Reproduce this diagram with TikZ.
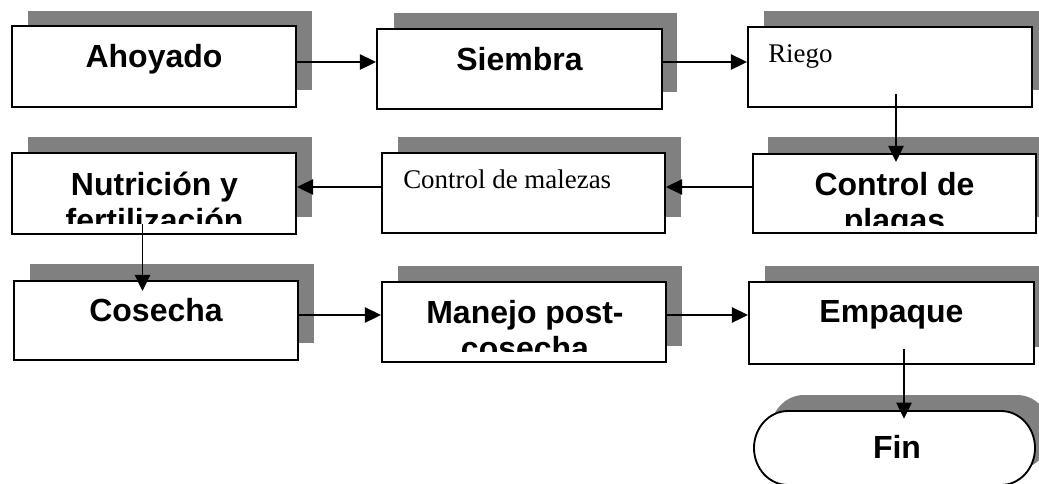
\documentclass[tikz,border=0pt]{standalone}
\usepackage{fontspec}
\setmainfont{Liberation Serif}
\setsansfont{Liberation Sans}
\usetikzlibrary{arrows.meta,fit,calc}
\definecolor{shadowgray}{HTML}{808080}
\begin{document}
\begin{tikzpicture}[x=0.75pt,y=-0.75pt,
  box/.style={draw=black,line width=1.6pt,fill=white,rectangle,inner sep=0pt},
  ghost/.style={rectangle,inner sep=0pt,draw=none},
  arr/.style={-{Triangle[length=12pt,width=11.5pt]},line width=1.1pt},
  boldtxt/.style={font=\sffamily\bfseries\fontsize{24}{27.6}\selectfont,inner sep=0pt,anchor=base},
  serif/.style={font=\rmfamily\fontsize{20.2}{24}\selectfont,inner sep=0pt,anchor=base west}]
\useasboundingbox (0,0) rectangle (1039,483);
% shadows
\fill[shadowgray] (28,11) rectangle (312,90);
\fill[shadowgray] (394,13) rectangle (677,92);
\fill[shadowgray] (764,11) rectangle (1048,90);
\fill[shadowgray] (28,137) rectangle (312,217);
\fill[shadowgray] (398,137) rectangle (681,217);
\fill[shadowgray] (768,137) rectangle (1052,217);
\fill[shadowgray] (30,264) rectangle (314,343);
\fill[shadowgray] (398,266) rectangle (682,346);
\fill[shadowgray] (765,266) rectangle (1050,347);
\fill[shadowgray] (804,395) -- (1017,395) .. controls (1035.8,395) and (1051,411.6) .. (1051,432)
  .. controls (1051,452.4) and (1035.8,469) .. (1017,469) -- (804,469)
  .. controls (785.2,469) and (770,452.4) .. (770,432) .. controls (770,411.6) and (785.2,395) .. (804,395) -- cycle;
% boxes
\node[box,fit={(12,26) (296,107)}] (ahoyado) {};
\node[box,fit={(377,29) (662,109)}] (siembra) {};
\node[box,fit={(748,27) (1032,107)}] (riego) {};
\node[box,fit={(12,153) (296,234)}] (nutricion) {};
\node[box,fit={(382,153) (665,233)}] (malezas) {};
\node[box,fit={(753,154) (1036,233)}] (plagas) {};
\node[box,fit={(14,281) (298,360)}] (cosecha) {};
\node[box,fit={(382,282) (666,362)}] (manejo) {};
\node[box,fit={(749,282) (1034,364)}] (empaque) {};
\node[ghost,fit={(754,411) (1035,485)}] (fin) {};
\filldraw[fill=white,draw=black,line width=1.4pt] (788,411) -- (1001,411) .. controls (1019.8,411) and (1035,427.6) .. (1035,448)
  .. controls (1035,468.4) and (1019.8,485) .. (1001,485) -- (788,485)
  .. controls (769.2,485) and (754,468.4) .. (754,448) .. controls (754,427.6) and (769.2,411) .. (788,411) -- cycle;
% texts
\node[boldtxt] (t-ahoyado) at (154,67) {Ahoyado};
\node[boldtxt] (t-siembra) at (519.5,70) {Siembra};
\node[serif] (t-riego) at (768,62) {Riego};
\begin{scope}
\clip (12,153) rectangle (296,223);
\node[boldtxt] (t-nutricion) at (154.5,195) {\begin{tabular}[t]{@{}c@{}}Nutrición y\\fertilización\end{tabular}};
\end{scope}
\node[serif] (t-malezas) at (403,188) {Control de malezas};
\begin{scope}
\clip (753,154) rectangle (1036,225);
\node[boldtxt] (t-plagas) at (894.5,195) {\begin{tabular}[t]{@{}c@{}}Control de\\plagas\end{tabular}};
\end{scope}
\node[boldtxt] (t-cosecha) at (156,321) {Cosecha};
\begin{scope}
\clip (382,282) rectangle (666,351);
\node[boldtxt] (t-manejo) at (525,323) {\begin{tabular}[t]{@{}c@{}}Manejo post-\\cosecha\end{tabular}};
\end{scope}
\node[boldtxt] (t-empaque) at (891.5,322) {Empaque};
\node[boldtxt] (t-fin) at (897,458) {Fin};
% connectors
\coordinate (r1) at (0,62);
\coordinate (r2) at (0,187);
\coordinate (r3) at (0,315);
\draw[arr] (ahoyado.east |- r1) -- (siembra.west |- r1);
\draw[arr] (siembra.east |- r1) -- (riego.west |- r1);
\draw[arr] ([shift={(6,-14)}]riego.south) -- ([shift={(1.5,9)}]plagas.north);
\draw[arr] (plagas.west |- r2) -- (malezas.east |- r2);
\draw[arr] (malezas.west |- r2) -- (nutricion.east |- r2);
\draw[arr] ([shift={(-11.5,-11)}]nutricion.south) -- ([shift={(-13.5,11)}]cosecha.north);
\draw[arr] (cosecha.east |- r3) -- (manejo.west |- r3);
\draw[arr] (manejo.east |- r3) -- (empaque.west |- r3);
\draw[arr] ([shift={(12.5,-16)}]empaque.south) -- ([shift={(9.5,8)}]fin.north);
\end{tikzpicture}
\end{document}
